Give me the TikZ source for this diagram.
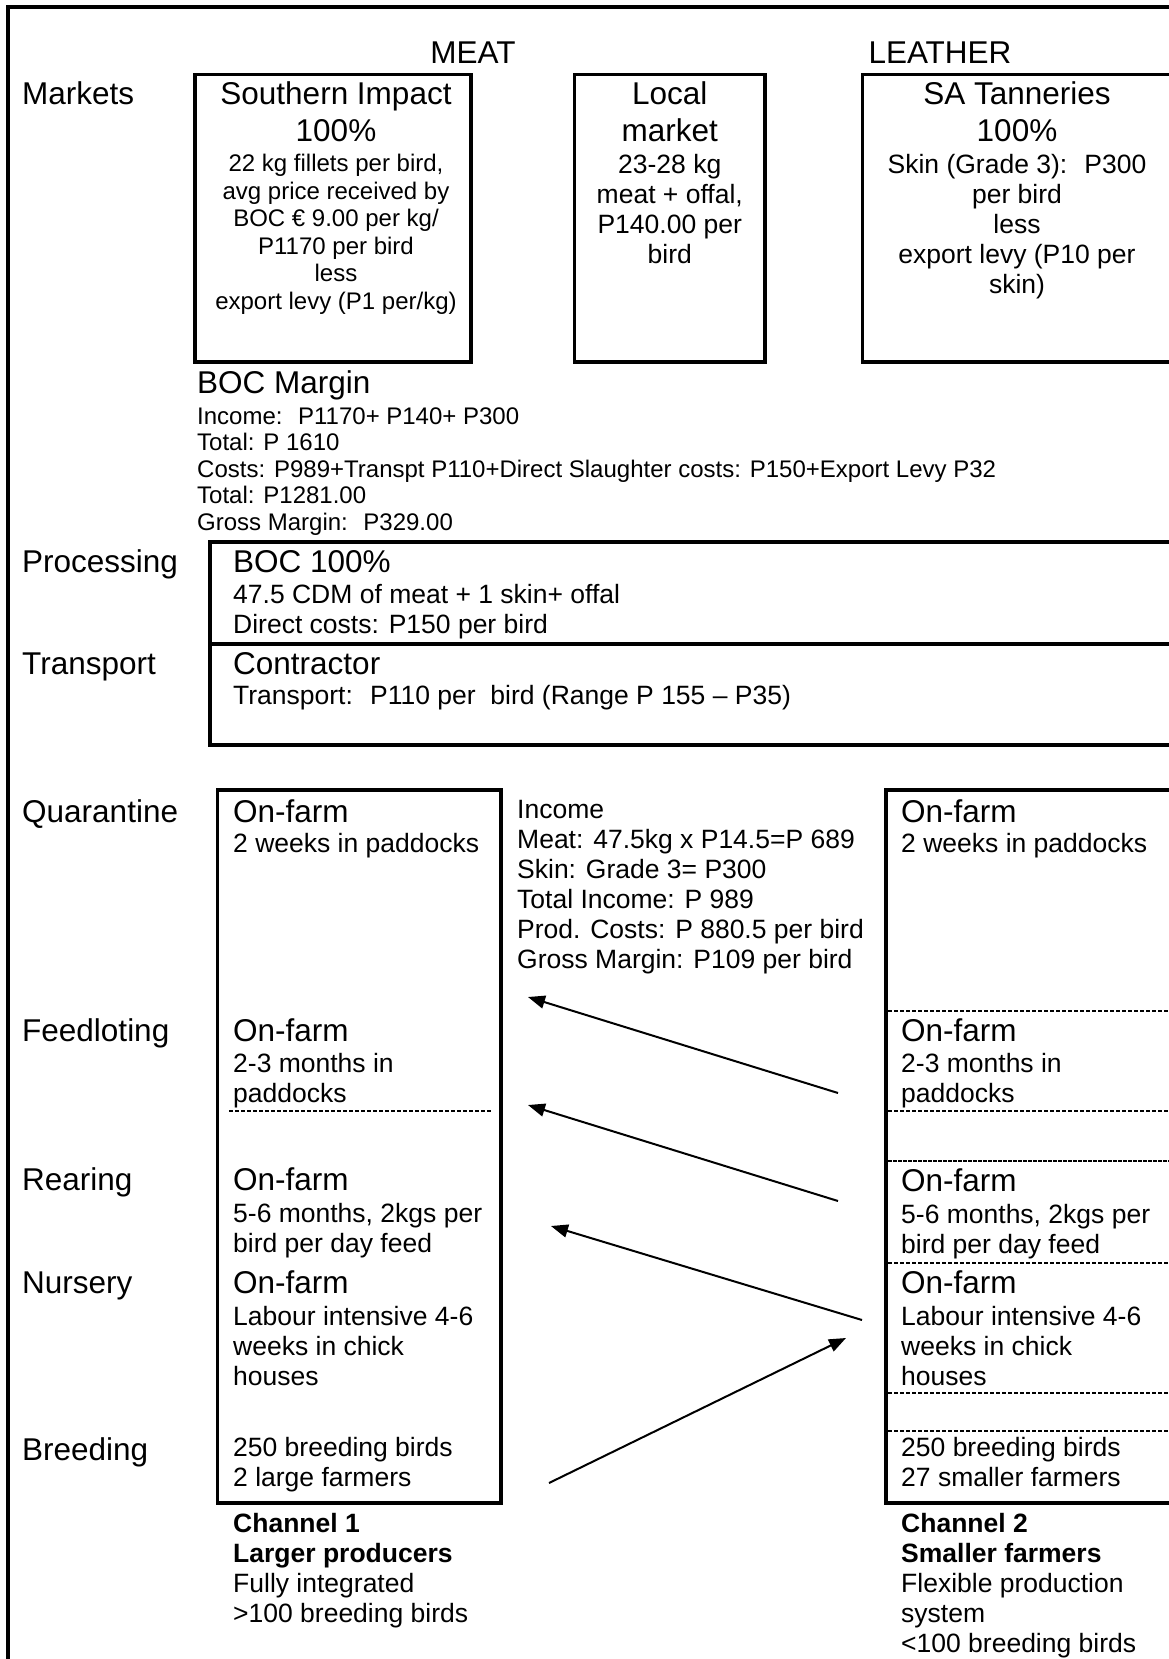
\documentclass[tikz,border=0pt]{standalone}
\usepackage{fontspec}
\setmainfont{Liberation Sans}
\usetikzlibrary{arrows.meta}
\newcommand\fmain{\fontsize{31.5}{36.5}\selectfont}
\newcommand\fmid{\fontsize{26.5}{30}\selectfont}
\newcommand\fsml{\fontsize{24}{27.5}\selectfont}
\newcommand\fboc{\fontsize{24}{26.5}\selectfont}
\newcommand\LinesC[1]{\begin{tabular}[t]{@{}c@{}}#1\end{tabular}}
\newcommand\LinesL[1]{\begin{tabular}[t]{@{}l@{}}#1\end{tabular}}
\renewcommand\arraystretch{1}
\begin{document}
\begin{tikzpicture}[x=1pt,y=-1pt,
  frame/.style={line width=4.5pt},
  boxn/.style={draw, line width=3.5pt, inner sep=0pt},
  lbl/.style={anchor=base west, inner sep=0pt, font=\fmain},
  ttl/.style={anchor=base, inner sep=0pt, font=\fmain},
  txl/.style={anchor=base west, inner sep=0pt},
  txc/.style={anchor=base, inner sep=0pt},
  sep/.style={line width=1.5pt, dash pattern=on 4pt off 2pt},
  sepd/.style={line width=2.5pt, dash pattern=on 4pt off 1pt},
  arr/.style={line width=2pt, -{Triangle[length=17pt,width=13pt]}}
]
\useasboundingbox (0,0) rectangle (1169,1659);
% outer frame
\draw[frame] (8,1670) -- (8,7) -- (1180,7);

% ---------- Markets ----------
\node[ttl] (meat) at (473,64) {MEAT};
\node[ttl] (leather) at (940,64) {LEATHER};
\node[lbl] (lMarkets) at (22,105) {Markets};

\node[boxn, minimum width=276, minimum height=287.5] (siBox) at (333,218.25) {};
\node[boxn, minimum width=190.5, minimum height=287.5] (locBox) at (669.75,218.25) {};
\node[boxn, minimum width=315.5, minimum height=287.5] (saBox) at (1020.25,218.25) {};

\node[ttl] (siT) at (336,105) {\LinesC{Southern Impact\\100\%}};
\node[txc, font=\fsml] (siD) at (336,171.7) {\LinesC{22 kg fillets per bird,\\avg price received by\\BOC € 9.00 per kg/\\P1170 per bird\\less\\export levy (P1 per/kg)}};

\node[ttl] (locT) at (669.75,105) {\LinesC{Local\\market}};
\node[txc, font=\fmid] (locD) at (669.75,173) {\LinesC{23-28 kg\\meat + offal,\\P140.00 per\\bird}};

\node[ttl] (saT) at (1017,105) {\LinesC{SA Tanneries\\100\%}};
\node[txc, font=\fmid] (saD) at (1017,173) {\LinesC{Skin (Grade 3):~ P300\\per bird\\less\\export levy (P10 per\\skin)}};

% ---------- BOC margin ----------
\node[txl, font=\fmain] (bocM) at (197,393) {BOC Margin};
\node[txl, font=\fboc] (bocD) at (197,424) {\LinesL{Income:~ P1170+ P140+ P300\\Total: P 1610\\Costs: P989+Transpt P110+Direct Slaughter costs: P150+Export Levy P32\\Total: P1281.00\\Gross Margin:~ P329.00}};

% ---------- Processing / Transport ----------
\node[boxn, minimum width=970, minimum height=102] (procBox) at (695,593) {};
\node[boxn, minimum width=970, minimum height=101] (transBox) at (695,694.5) {};
\node[lbl] (lProc) at (22,572) {Processing};
\node[txl, font=\fmain] (procT) at (233,572) {BOC 100\%};
\node[txl, font=\fmid] (procD) at (233,603) {\LinesL{47.5 CDM of meat + 1 skin+ offal\\Direct costs: P150 per bird}};
\node[lbl] (lTrans) at (22,674) {Transport};
\node[txl, font=\fmain] (transT) at (233,674) {Contractor};
\node[txl, font=\fmid] (transD) at (233,704) {Transport:~ P110 per~ bird (Range P 155 – P35)};

% ---------- Row labels (farm stages) ----------
\node[lbl] (lQuar) at (22,822) {Quarantine};
\node[lbl] (lFeed) at (22,1041) {Feedloting};
\node[lbl] (lRear) at (22,1190) {Rearing};
\node[lbl] (lNurs) at (22,1293) {Nursery};
\node[lbl] (lBreed) at (22,1460) {Breeding};

% ---------- Channel 1 ----------
\node[boxn, minimum width=283.5, minimum height=713] (c1Box) at (359.25,1146.5) {};
\node[txl, font=\fmain] (c1q) at (233,822) {On-farm};
\node[txl, font=\fmid] (c1qd) at (233,852) {2 weeks in paddocks};
\node[txl, font=\fmain] (c1f) at (233,1041) {On-farm};
\node[txl, font=\fmid] (c1fd) at (233,1072) {\LinesL{2-3 months in\\paddocks}};
\draw[sep] (229,1111) -- (492,1111);
\node[txl, font=\fmain] (c1r) at (233,1190) {On-farm};
\node[txl, font=\fmid] (c1rd) at (233,1222) {\LinesL{5-6 months, 2kgs per\\bird per day feed}};
\node[txl, font=\fmain] (c1n) at (233,1293) {On-farm};
\node[txl, font=\fmid] (c1nd) at (233,1325) {\LinesL{Labour intensive 4-6\\weeks in chick\\houses}};
\node[txl, font=\fmid] (c1b) at (233,1456) {\LinesL{250 breeding birds\\2 large farmers}};
\node[txl, font=\fmid] (c1cap) at (233,1532) {\LinesL{\textbf{Channel 1}\\\textbf{Larger producers}\\Fully integrated\\>100 breeding birds}};

% ---------- Income (middle) ----------
\node[txl, font=\fmid] (income) at (517,818) {\LinesL{Income\\Meat: 47.5kg x P14.5=P 689\\Skin: Grade 3= P300\\Total Income: P 989\\Prod. Costs: P 880.5 per bird\\Gross Margin: P109 per bird}};

% ---------- Channel 2 ----------
\node[boxn, minimum width=294, minimum height=713] (c2Box) at (1033,1146.5) {};
\node[txl, font=\fmain] (c2q) at (901,822) {On-farm};
\node[txl, font=\fmid] (c2qd) at (901,852) {2 weeks in paddocks};
\draw[sep] (888,1011) -- (1175,1011);
\node[txl, font=\fmain] (c2f) at (901,1041) {On-farm};
\node[txl, font=\fmid] (c2fd) at (901,1072) {\LinesL{2-3 months in\\paddocks}};
\draw[sep] (888,1111) -- (1175,1111);
\draw[sepd] (888,1161) -- (1175,1161);
\node[txl, font=\fmain] (c2r) at (901,1191) {On-farm};
\node[txl, font=\fmid] (c2rd) at (901,1223) {\LinesL{5-6 months, 2kgs per\\bird per day feed}};
\draw[sep] (888,1263) -- (1175,1263);
\node[txl, font=\fmain] (c2n) at (901,1293) {On-farm};
\node[txl, font=\fmid] (c2nd) at (901,1325) {\LinesL{Labour intensive 4-6\\weeks in chick\\houses}};
\draw[sep] (888,1393) -- (1175,1393);
\draw[sep] (888,1431) -- (1175,1431);
\node[txl, font=\fmid] (c2b) at (901,1456) {\LinesL{250 breeding birds\\27 smaller farmers}};
\node[txl, font=\fmid] (c2cap) at (901,1532) {\LinesL{\textbf{Channel 2}\\\textbf{Smaller farmers}\\Flexible production\\system\\<100 breeding birds}};

% ---------- Arrows ----------
\coordinate (a1s) at (838,1093); \coordinate (a1e) at (528,997);
\coordinate (a2s) at (838,1201); \coordinate (a2e) at (528,1105);
\coordinate (a3s) at (862,1320); \coordinate (a3e) at (551,1226);
\coordinate (a4s) at (549,1483); \coordinate (a4e) at (846,1338);
\draw[arr] (a1s) -- (a1e);
\draw[arr] (a2s) -- (a2e);
\draw[arr] (a3s) -- (a3e);
\draw[arr] (a4s) -- (a4e);
\end{tikzpicture}
\end{document}
